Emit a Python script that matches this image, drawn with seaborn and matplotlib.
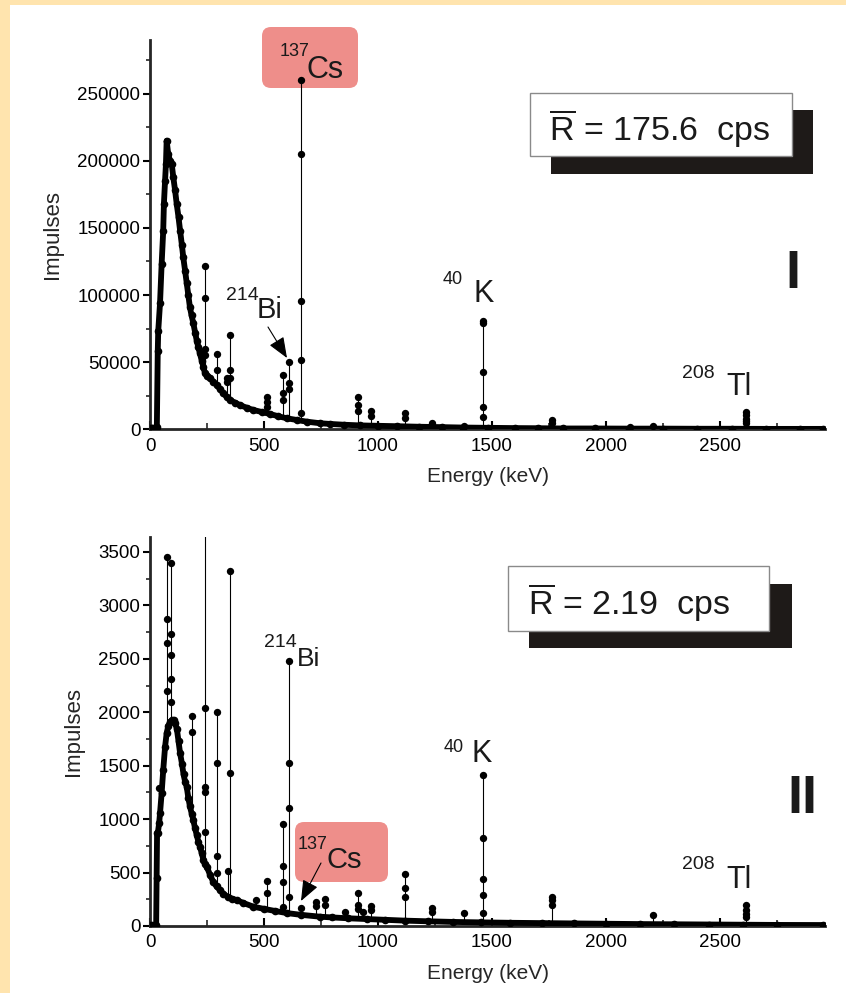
import matplotlib
matplotlib.use("Agg")
import matplotlib.pyplot as plt
from matplotlib.patches import Rectangle, FancyBboxPatch, FancyArrowPatch
from matplotlib.ticker import MultipleLocator, FormatStrFormatter
import seaborn as sns

# ---- panel I : continuum (keV, impulses)
top_cont_E = [0, 10, 20, 30, 34, 36, 44, 51, 58, 61,
              66, 70, 73, 80, 88, 95, 102, 110, 117, 125,
              132, 140, 146, 154, 161, 168, 175, 182, 190, 198,
              205, 212, 219, 227, 234, 241, 252, 263, 278, 292,
              307, 322, 336, 351, 373, 395, 425, 453, 490, 526,
              563, 600, 645, 687, 746, 789, 850, 920, 1000, 1082,
              1180, 1280, 1374, 1480, 1600, 1700, 1813, 1950, 2100, 2250,
              2400, 2550, 2700, 2850, 2950]
top_cont_v = [1000, 1200, 1200, 1500, 58000, 73000, 94000, 123000, 148000, 168000,
              185000, 198000, 215000, 205000, 200000, 198000, 188000, 178000, 168000, 158000,
              148000, 137000, 128000, 118000, 109000, 100000, 91000, 85000, 79000, 72000,
              66000, 61000, 56500, 51000, 46600, 41700, 40000, 38000, 35500, 33000,
              30000, 26800, 24200, 21800, 19800, 18000, 16000, 14400, 12900, 11400,
              9700, 8200, 6900, 5700, 4500, 4000, 3400, 2900, 2600, 2300,
              1900, 1600, 1300, 1100, 900, 800, 600, 600, 500, 500,
              400, 400, 300, 300, 300]

# peak stems (energy, foot, top)
top_pk_E = [239, 295, 338, 352, 511, 583, 609, 662, 911, 969, 1120, 1238, 1461, 1765, 2204, 2614]
top_pk_base = [45000, 33000, 24500, 22000, 11000, 9000, 8000, 6500, 3300, 2700, 2200, 1900, 1100, 600, 500, 400]
top_pk_top = [122000, 56000, 38000, 70000, 24000, 40700, 50000, 260400, 23800, 13900, 11900, 4900, 80800, 6900, 2500, 13100]

# channel dots sitting on the stems
top_dot_E = [239, 239, 239, 239, 295, 295, 338, 338, 352, 352, 352, 511, 511, 511,
             583, 583, 583, 609, 609, 609, 662, 662, 662, 662, 662, 911, 911, 911,
             969, 969, 1120, 1120, 1238, 1461, 1461, 1461, 1461, 1461, 1765, 1765,
             2204, 2614, 2614, 2614, 2614, 2614, 1377, 2105]
top_dot_v = [122000, 97600, 60000, 55000, 56000, 44000, 38000, 35000, 70000, 44000, 38000, 24000, 20500, 16800,
             40700, 27000, 22000, 50000, 34700, 29700, 260400, 204800, 95700, 51600, 12400, 23800, 18000, 13900,
             13900, 9900, 11900, 8200, 4900, 80800, 79000, 42900, 16800, 9400, 6900, 5000,
             2500, 13100, 10500, 8000, 6000, 4500, 2500, 2000]

# ---- panel II
bot_cont_E = [0, 10, 20, 27, 29, 31, 34, 40, 44, 51,
              58, 66, 73, 80, 88, 96, 104, 110, 118, 125,
              132, 140, 147, 154, 161, 168, 175, 183, 190, 197,
              205, 212, 219, 227, 234, 241, 249, 263, 278, 292,
              307, 322, 340, 360, 380, 410, 453, 500, 550, 600,
              660, 746, 800, 870, 950, 1030, 1120, 1220, 1330, 1450,
              1580, 1720, 1860, 2000, 2150, 2300, 2450, 2600, 2750, 2950]
bot_cont_v = [10, 10, 10, 10, 446, 870, 867, 960, 1056, 1243,
              1459, 1675, 1804, 1870, 1910, 1926, 1930, 1900, 1840, 1730,
              1617, 1520, 1420, 1350, 1303, 1200, 1120, 1050, 991, 920,
              850, 790, 742, 680, 620, 580, 555, 480, 410, 370,
              337, 300, 275, 255, 243, 215, 181, 160, 140, 121,
              105, 87, 80, 72, 65, 58, 50, 44, 38, 34,
              30, 27, 24, 21, 18, 16, 14, 12, 10, 9]

bot_pk_E = [75, 90, 186, 239, 295, 340, 352, 465, 511, 583, 609, 662, 727, 768, 855,
            911, 934, 969, 1120, 1238, 1378, 1461, 1765, 2204, 2614]
bot_pk_base = [1800, 1920, 1020, 580, 370, 275, 265, 178, 160, 128, 121, 105, 92, 85, 73,
               66, 65, 62, 50, 44, 37, 34, 26, 17, 12]
bot_pk_top = [3450, 3400, 1967, 3700, 1998, 517, 3320, 243, 421, 954, 2478, 165, 227, 252, 134,
              312, 134, 187, 486, 165, 118, 1412, 271, 100, 196]

bot_dot_E = [41, 75, 75, 75, 75, 90, 90, 90, 90, 90, 186, 186, 239, 239, 239, 239,
             295, 295, 295, 295, 340, 352, 352, 465, 511, 511, 583, 583, 583, 583,
             609, 609, 609, 609, 662, 727, 727, 768, 768, 855, 911, 911, 911, 934,
             969, 969, 1120, 1120, 1120, 1238, 1238, 1378, 1461, 1461, 1461, 1461, 1461,
             1765, 1765, 1765, 2204, 2614, 2614, 2614, 2614]
bot_dot_v = [1290, 3450, 2870, 2650, 2200, 3400, 2730, 2540, 2310, 2100, 1967, 1811, 2040, 1300, 1250, 880,
             1998, 1527, 655, 500, 517, 3320, 1428, 243, 421, 309, 954, 564, 414, 181,
             2478, 1521, 1100, 274, 165, 227, 187, 252, 200, 134, 312, 196, 160, 134,
             187, 150, 486, 352, 274, 165, 130, 118, 1412, 820, 440, 290, 120,
             271, 240, 200, 100, 196, 150, 110, 80]

sns.set_theme(style="ticks")
plt.rcParams["font.family"] = ["Liberation Sans", "DejaVu Sans"]
plt.rcParams["mathtext.fontset"] = "custom"
plt.rcParams["mathtext.rm"] = "Liberation Sans"
plt.rcParams["axes.linewidth"] = 2.0

W, H = 846, 993
fig = plt.figure(figsize=(W / 100, H / 100), dpi=100, facecolor="#FFE4AE")
inch = fig.dpi_scale_trans


def px(x, y):
    # pixel position measured from the top-left -> inches from bottom-left
    return x / 100, (H - y) / 100


def rect(x0, y0, x1, y1, **kw):
    fig.add_artist(Rectangle(px(x0, y1), (x1 - x0) / 100, (y1 - y0) / 100, transform=inch, **kw))


def label(x, y, s, size, ha="left", **kw):
    fig.text(*px(x, y), s, fontsize=size, transform=inch, ha=ha, va="baseline",
             color="#1a1a1a", zorder=6, **kw)


def arrow(p0, p1):
    fig.add_artist(FancyArrowPatch(px(*p0), px(*p1), transform=inch,
                                   arrowstyle="-|>,head_length=0.8,head_width=0.32",
                                   mutation_scale=16, lw=0.8, color="black",
                                   shrinkA=0, shrinkB=0, zorder=6))


# white sheet on the cream frame
rect(10, 5, W, H, fc="white", ec="none", zorder=-5)


def panel(ax, cE, cv, pE, plo, phi, dE, dv, ymax, ymaj, ymin):
    ax.set_facecolor("none")
    ax.vlines(pE, plo, phi, color="black", lw=0.8, zorder=2)
    sns.lineplot(x=cE, y=cv, ax=ax, color="black", linewidth=4.2, marker="o",
                 markersize=5.5, markeredgewidth=0, estimator=None, sort=False, zorder=3)
    sns.scatterplot(x=dE, y=dv, ax=ax, color="black", s=28, linewidth=0, zorder=4)
    ax.set_xlim(0, 2960)
    ax.set_ylim(0, ymax)
    ax.xaxis.set_major_locator(MultipleLocator(500))
    ax.xaxis.set_minor_locator(MultipleLocator(250))
    ax.yaxis.set_major_locator(MultipleLocator(ymaj))
    ax.yaxis.set_minor_locator(MultipleLocator(ymin))
    ax.yaxis.set_major_formatter(FormatStrFormatter("%d"))
    ax.tick_params(axis="x", which="major", direction="in", length=6, width=1.5,
                   labelsize=13.5, pad=6, colors="black")
    ax.tick_params(axis="x", which="minor", direction="in", length=4, width=1.2)
    ax.tick_params(axis="y", which="major", direction="out", length=5, width=1.5,
                   labelsize=13.5, pad=2, colors="black")
    ax.tick_params(axis="y", which="minor", direction="out", length=3, width=1.2)
    ax.set_xlabel("Energy (keV)", fontsize=15, labelpad=9)
    ax.set_ylabel("Impulses", fontsize=16, labelpad=10)
    sns.despine(ax=ax)


ax1 = fig.add_axes([150 / W, 1 - 429.3 / H, 675 / W, 389.3 / H])
ax2 = fig.add_axes([150 / W, 1 - 926 / H, 675 / W, 389 / H])
panel(ax1, top_cont_E, top_cont_v, top_pk_E, top_pk_base, top_pk_top,
      top_dot_E, top_dot_v, 290000, 50000, 25000)
panel(ax2, bot_cont_E, bot_cont_v, bot_pk_E, bot_pk_base, bot_pk_top,
      bot_dot_E, bot_dot_v, 3640, 500, 250)

# 137Cs tags (pink, behind the data)
fig.add_artist(FancyBboxPatch(px(262, 88), 0.96, 0.61, boxstyle="round,pad=0,rounding_size=0.09",
                              transform=inch, fc="#EE8E8A", ec="none", zorder=-1))
label(280, 56, "137", 13)
label(307, 78, "Cs", 22)
fig.add_artist(FancyBboxPatch(px(295, 882), 0.93, 0.60, boxstyle="round,pad=0,rounding_size=0.09",
                              transform=inch, fc="#EE8E8A", ec="none", zorder=-1))
label(298, 849, "137", 13)
label(327, 868, "Cs", 21)
arrow((321, 863), (301, 901))

# mean count-rate boxes with drop shadow
rect(551, 110, 813, 174, fc="#1e1a18", ec="none", zorder=5)
rect(530, 93, 792, 156, fc="white", ec="#8a8a8a", lw=1, zorder=5)
label(549, 141, r"$\overline{\mathrm{R}}$ = 175.6  cps", 24.5)
rect(529, 584, 792, 648, fc="#1e1a18", ec="none", zorder=5)
rect(508, 566, 769, 631, fc="white", ec="#8a8a8a", lw=1, zorder=5)
label(528, 615, r"$\overline{\mathrm{R}}$ = 2.19  cps", 24.5)

# isotope labels
label(226, 300, "214", 14)
label(257, 318, "Bi", 21)
arrow((268, 327), (287, 358))
label(443, 284, "40", 13)
label(473, 302, "K", 22)
label(682, 378, "208", 14)
label(726, 395, "Tl", 22)

label(264, 647, "214", 14)
label(297, 666, "Bi", 19)
label(444, 752, "40", 13)
label(472, 762, "K", 22)
label(682, 869, "208", 14)
label(726, 888, "Tl", 22)

# panel numbers
label(793, 288, "I", 39, ha="center", fontweight="bold")
label(802, 813, "II", 39, ha="center", fontweight="bold")

fig.savefig("out.png", dpi=100, facecolor=fig.get_facecolor())
